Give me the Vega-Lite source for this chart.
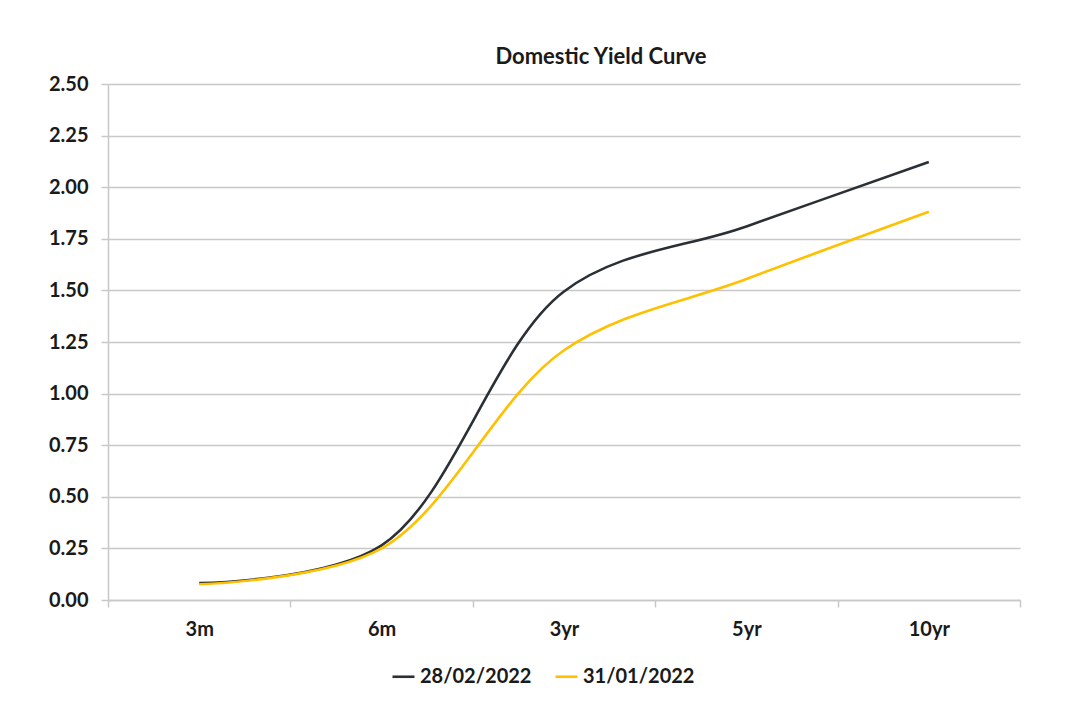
{
  "$schema": "https://vega.github.io/schema/vega-lite/v6.json",
  "autosize": {"type": "none"},
  "padding": {"left": 108, "top": 84, "right": 59, "bottom": 113},
  "width": 912,
  "height": 516,
  "background": "white",
  "title": {
    "text": "Domestic Yield Curve",
    "font": "Lato",
    "fontSize": 22,
    "fontWeight": "bold",
    "color": "#1a1a1a",
    "anchor": "middle",
    "dx": 37,
    "offset": 5
  },
  "data": {
    "values": [
      {"tenor": "3m", "date": "28/02/2022", "yield": 0.082},
      {"tenor": "6m", "date": "28/02/2022", "yield": 0.265},
      {"tenor": "3yr", "date": "28/02/2022", "yield": 1.495},
      {"tenor": "5yr", "date": "28/02/2022", "yield": 1.81},
      {"tenor": "10yr", "date": "28/02/2022", "yield": 2.122},
      {"tenor": "3m", "date": "31/01/2022", "yield": 0.076},
      {"tenor": "6m", "date": "31/01/2022", "yield": 0.25},
      {"tenor": "3yr", "date": "31/01/2022", "yield": 1.21},
      {"tenor": "5yr", "date": "31/01/2022", "yield": 1.555},
      {"tenor": "10yr", "date": "31/01/2022", "yield": 1.881}
    ]
  },
  "mark": {"type": "line", "interpolate": "catmull-rom", "strokeWidth": 2.6},
  "encoding": {
    "x": {
      "field": "tenor",
      "type": "nominal",
      "sort": ["3m", "6m", "3yr", "5yr", "10yr"],
      "scale": {"type": "band", "paddingInner": 0, "paddingOuter": 0},
      "axis": {
        "title": null,
        "labelAngle": 0,
        "tickBand": "extent",
        "grid": false,
        "domainColor": "#c8c8c8",
        "domainWidth": 1.5,
        "tickColor": "#c8c8c8",
        "tickWidth": 1.5,
        "tickSize": 7,
        "labelPadding": 12,
        "labelFont": "Lato",
        "labelFontSize": 20,
        "labelFontWeight": "bold",
        "labelColor": "#1a1a1a"
      }
    },
    "y": {
      "field": "yield",
      "type": "quantitative",
      "scale": {"domain": [0, 2.5], "nice": false},
      "axis": {
        "title": null,
        "values": [0, 0.25, 0.5, 0.75, 1, 1.25, 1.5, 1.75, 2, 2.25, 2.5],
        "format": ".2f",
        "grid": true,
        "gridColor": "#c8c8c8",
        "gridWidth": 1.5,
        "domainColor": "#c8c8c8",
        "domainWidth": 1.5,
        "tickColor": "#c8c8c8",
        "tickWidth": 1.5,
        "tickSize": 7,
        "labelPadding": 13,
        "labelFont": "Lato",
        "labelFontSize": 20,
        "labelFontWeight": "bold",
        "labelColor": "#1a1a1a"
      }
    },
    "color": {
      "field": "date",
      "type": "nominal",
      "scale": {"domain": ["28/02/2022", "31/01/2022"], "range": ["#2b3036", "#FFC000"]},
      "legend": {
        "title": null,
        "orient": "none",
        "direction": "horizontal",
        "legendX": 283,
        "legendY": 580,
        "symbolType": "stroke",
        "symbolSize": 484,
        "symbolStrokeWidth": 2.6,
        "labelOffset": 4,
        "columnPadding": 18,
        "labelFont": "Lato",
        "labelFontSize": 20,
        "labelFontWeight": "bold",
        "labelColor": "#1a1a1a"
      }
    }
  },
  "config": {"view": {"stroke": null}}
}
